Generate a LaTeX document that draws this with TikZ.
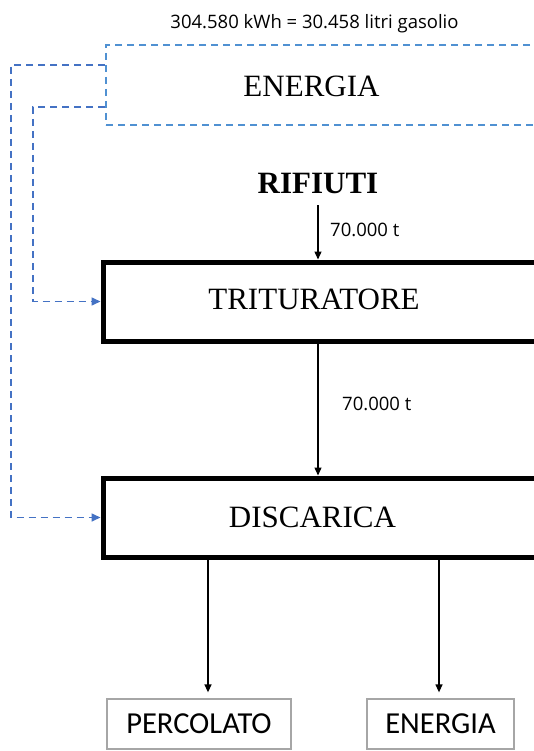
\documentclass[tikz,border=0pt]{standalone}
\usepackage{fontspec}
\setmainfont{Liberation Serif}
\newfontfamily\smallfont{Open Sans}
\newfontfamily\outfont{Carlito}
\usepackage{xcolor}
\usetikzlibrary{positioning}
\usetikzlibrary{arrows.meta}

\definecolor{feedblue}{RGB}{68,114,196}
\definecolor{boxblue}{RGB}{80,145,210}

\begin{document}
\begin{tikzpicture}[x=1pt,y=-1pt,
  procbox/.style={draw=black,line width=5pt,minimum width=433pt,minimum height=79pt,inner sep=0pt},
  energybox/.style={draw=boxblue,line width=1.6pt,dash pattern=on 7pt off 5pt,minimum width=454pt,minimum height=80pt,inner sep=0pt},
  outbox/.style={draw=gray!70,line width=1.3pt,minimum height=50pt,inner sep=0pt,font=\outfont\fontsize{30.5}{32}\selectfont},
  bigtext/.style={inner sep=0pt,anchor=base,font=\fontsize{31}{34}\selectfont},
  qty/.style={inner sep=0pt,anchor=base west,font=\smallfont\fontsize{18.5}{20}\selectfont},
  flow/.style={line width=1.3pt,-{Triangle[length=8pt,width=7pt]}},
  feed/.style={feedblue,line width=1.6pt,dash pattern=on 7pt off 5pt,-{Triangle[length=9pt,width=8pt]}}]

\useasboundingbox (0,0) rectangle (534,751);
\clip (0,0) rectangle (534,751);

% energy supply
\node[inner sep=0pt,anchor=base,font=\smallfont\fontsize{18.5}{20}\selectfont] (kwh) at (314.5,28.5) {304.580 kWh = 30.458 litri gasolio};
\node[energybox] (energia) at (333,85) {};
\node[bigtext] (energialab) at (311.5,97) {ENERGIA};

% process chain
\node[bigtext,font=\bfseries\fontsize{31}{34}\selectfont] (rifiuti) at (318,194) {RIFIUTI};
\node[procbox] (trit) at (319.5,301.5) {};
\node[bigtext] (tritlab) at (314,309) {TRITURATORE};
\node[procbox] (disc) at (319.5,517.5) {};
\node[bigtext] (disclab) at (312.5,527) {DISCARICA};

% outputs
\node[outbox,minimum width=184pt] (perc) at (199,724) {PERCOLATO};
\node[outbox,minimum width=147pt] (enout) at (440.5,724) {ENERGIA};

\node[qty] (q1) at (330,236) {70.000 t};
\node[qty] (q2) at (342,410) {70.000 t};

\draw[flow] ([yshift=-11pt]rifiuti.south) -- (rifiuti.south |- trit.north);
\draw[flow] (rifiuti.south |- trit.south) -- (rifiuti.south |- disc.north);
\draw[flow] ([xshift=9pt]perc.north |- disc.south) -- ([xshift=9pt,yshift=6pt]perc.north);
\draw[flow] ([xshift=-1.5pt]enout.north |- disc.south) -- ([xshift=-1.5pt,yshift=6pt]enout.north);

% energy lines
\draw[feed] ([yshift=20pt]energia.west) -- ++(-94,0) |- (disc.west);
\draw[feed] ([yshift=-22pt]energia.west) -- ++(-72,0) |- (trit.west);

\end{tikzpicture}
\end{document}
